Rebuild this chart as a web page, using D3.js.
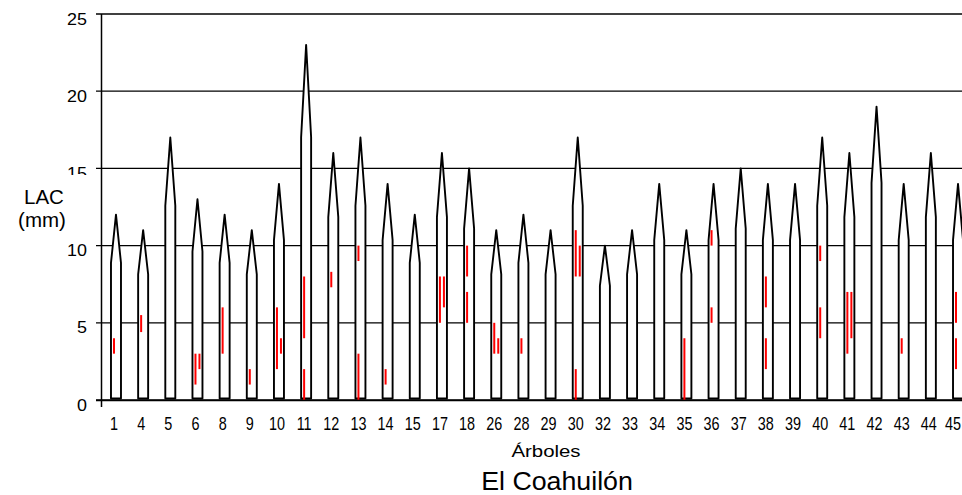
<!DOCTYPE html>
<html>
<head>
<meta charset="utf-8">
<script src="https://cdn.jsdelivr.net/npm/d3@7"></script>
<style>
  html, body { margin: 0; padding: 0; background: #fff; }
  svg { display: block; }
  text { font-family: "Liberation Sans", Arial, sans-serif; fill: #000; }
</style>
</head>
<body>
<svg id="chart" width="962" height="495"></svg>
<script>
// Trees (categories)
const trees = ["1","4","5","6","8","9","10","11","12","13","14","15","17","18","26","28","29","30","32","33","34","35","36","37","38","39","40","41","42","43","44","45"];
// LAC height per tree (mm)
const heights = [12,11,17,13,12,11,14,23,16,17,14,12,16,15,11,12,11,17,10,11,14,11,14,15,14,14,17,16,19,14,16,14];
// Red segments: tree, start, end (mm)
const segTree = ["1","4","6","6","8","9","10","10","11","11","12","13","13","14","17","17","18","18","26","26","28","30","30","30","35","36","36","38","38","40","40","41","41","43","45","45"];
const segFrom = [3,4.4,1,2,3,1,2,3,4,0,7.3,9,0,1,5,6,8,5,3,3,3,8,8,0,0,10,5,6,2,9,4,3,4,3,5,2];
const segTo   = [4,5.5,3,3,6,2,6,4,8,2,8.3,10,3,2,8,8,10,7,5,4,4,11,10,2,4,11,6,8,4,10,6,7,7,4,7,4];
// Y ticks
const yTicks = [0,5,10,15,20,25];

const svg = d3.select("#chart");
const y = d3.scaleLinear().domain([0,25]).range([400,14]);
const x = d3.scaleBand().domain(trees).range([102.4, 971.6]).padding(0);
const bw = x.bandwidth();
const cx = t => x(t) + bw/2;
const axisX = 101.5;
const SHOULDER = 0.74;   // shoulder height as fraction of tree height (shape)
const HALF = 5;          // half width of tree trunk (px)

// gridlines
svg.append("g").selectAll("line").data(yTicks).join("line")
  .attr("x1", 96).attr("x2", 962)
  .attr("y1", d => y(d)).attr("y2", d => y(d))
  .attr("stroke", "#000").attr("stroke-width", 1.3);

// y axis line
svg.append("line").attr("x1", axisX).attr("x2", axisX)
  .attr("y1", y(25)).attr("y2", y(0) + 7)
  .attr("stroke", "#000").attr("stroke-width", 1.5);

// y tick labels
svg.append("g").selectAll("text").data(yTicks).join("text")
  .attr("transform", d => `translate(87,${y(d) + 10.5}) scale(1.12,1)`)
  .attr("text-anchor", "end")
  .attr("font-size", 16)
  .text(d => d);

// LAC label box (white background, overlaps lower part of "15")
svg.append("rect").attr("x", 16).attr("y", 175).attr("width", 74).attr("height", 60).attr("fill", "#fff");
svg.append("text").attr("x", 44).attr("y", 203.5).attr("text-anchor", "middle").attr("font-size", 20.5).text("LAC");
svg.append("text").attr("x", 42).attr("y", 227).attr("text-anchor", "middle").attr("font-size", 20.5).text("(mm)");

// trees
const base = y(0) - 1.5;
svg.append("g").selectAll("path").data(trees).join("path")
  .attr("d", (t, i) => {
    const c = cx(t), h = heights[i];
    const s = y(h * SHOULDER), p = y(h);
    return `M${c-HALF},${base} L${c-HALF},${s} L${c},${p} L${c+HALF},${s} L${c+HALF},${base} Z`;
  })
  .attr("fill", "#fff").attr("stroke", "#000").attr("stroke-width", 1.9)
  .attr("stroke-linejoin", "round");

// red segments with lane assignment (overlapping segments side by side)
const segs = segTree.map((t, i) => ({ t, a: segFrom[i], b: segTo[i] }));
const lane0 = {};
segs.forEach(s => {
  const list = lane0[s.t] || (lane0[s.t] = []);
  const overlap = list.some(o => s.a < o.b && s.b > o.a);
  if (overlap) { s.lane = 1; } else { s.lane = 0; list.push(s); }
});
svg.append("g").selectAll("line").data(segs).join("line")
  .attr("x1", d => cx(d.t) + (d.lane ? 2 : -2))
  .attr("x2", d => cx(d.t) + (d.lane ? 2 : -2))
  .attr("y1", d => y(d.a)).attr("y2", d => y(d.b))
  .attr("stroke", "#ff0000").attr("stroke-width", 2);

// x axis line
svg.append("line").attr("x1", 96).attr("x2", 962)
  .attr("y1", y(0) + 0.5).attr("y2", y(0) + 0.5)
  .attr("stroke", "#000").attr("stroke-width", 1.3);

// x tick labels
svg.append("g").selectAll("text").data(trees).join("text")
  .attr("transform", t => `translate(${Math.min(cx(t) - 2, 953)},430) scale(0.8,1)`)
  .attr("text-anchor", "middle")
  .attr("font-size", 18)
  .text(t => t);

// axis title and chart title
svg.append("text").attr("transform", "translate(546,456.7) scale(1.2,1)")
  .attr("text-anchor", "middle").attr("font-size", 17).text("Árboles");
svg.append("text").attr("transform", "translate(557,490) scale(1.05,1)")
  .attr("text-anchor", "middle").attr("font-size", 25.5).text("El Coahuilón");
</script>
</body>
</html>
